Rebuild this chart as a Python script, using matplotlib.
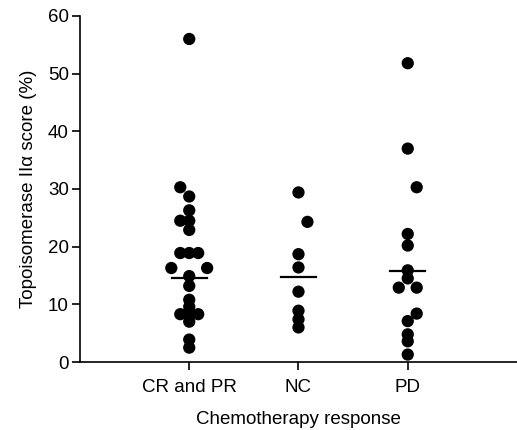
import matplotlib.pyplot as plt

# scores (% topoisomerase II alpha)
groups = ["CR and PR", "NC", "PD"]
cr_pr = [56.0, 30.3, 28.7, 26.3, 24.5, 24.5, 22.9, 18.9, 18.9, 18.9, 16.3, 16.3,
         14.9, 13.2, 10.8, 9.6, 8.3, 8.3, 8.3, 7.0, 3.9, 2.5]
nc = [29.4, 24.3, 18.7, 16.4, 12.2, 8.9, 7.4, 6.0]
pd_ = [51.8, 37.0, 30.3, 22.2, 20.2, 15.9, 14.5, 12.9, 12.9, 8.4, 7.1, 4.8, 3.6, 1.3]
medians = [14.55, 14.7, 15.7]

# horizontal spread of the dots (column scatter), in category units
step = 0.082
cr_dx = [0, -1, 0, 0, -1, 0, 0, -1, 0, 1, -2, 2, 0, 0, 0, 0, -1, 0, 1, 0, 0, 0]
nc_dx = [0, 1, 0, 0, 0, 0, 0, 0]
pd_dx = [0, 0, 1, 0, 0, 0, 0, -1, 1, 1, 0, 0, 0, 0]

plt.rcParams['font.family'] = ['Liberation Sans', 'DejaVu Sans']

fig = plt.figure(figsize=(5.17, 4.30), dpi=100)
ax = fig.add_axes([0.1547, 0.158, 0.8453, 0.805])

for i, (vals, dx) in enumerate([(cr_pr, cr_dx), (nc, nc_dx), (pd_, pd_dx)]):
    xs = [i + 1 + d * step for d in dx]
    ax.scatter(xs, vals, s=78, color='black', edgecolors='none', zorder=3)
    ax.plot([i + 1 - 0.16, i + 1 + 0.16], [medians[i], medians[i]],
            color='black', lw=1.6, zorder=4)

ax.set_xlim(0, 4)
ax.set_ylim(0, 60)
ax.set_yticks(range(0, 61, 10))
ax.set_xticks([1, 2, 3])
ax.set_xticklabels(groups)
ax.spines['top'].set_visible(False)
ax.spines['right'].set_visible(False)
ax.spines['left'].set_linewidth(1.2)
ax.spines['bottom'].set_linewidth(1.2)
ax.tick_params(axis='both', direction='out', length=6, width=1.2,
               labelsize=13.5, pad=2)
ax.tick_params(axis='x', pad=6)
ax.set_ylabel(u"Topoisomerase II\u03b1 score (%)", fontsize=13.5, labelpad=8)
ax.set_xlabel("Chemotherapy response", fontsize=13.5, labelpad=11)

fig.savefig("out.png", dpi=100)
